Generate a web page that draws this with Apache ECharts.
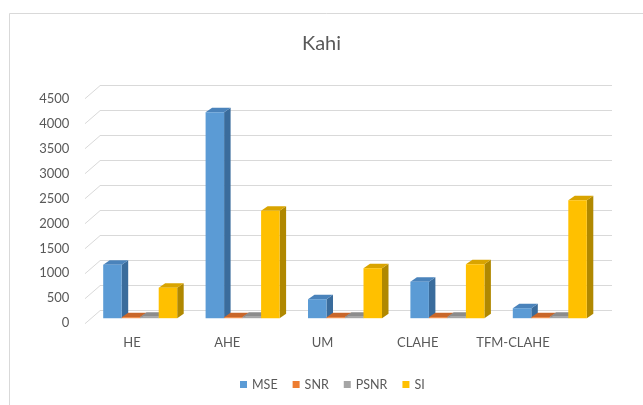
<!DOCTYPE html>
<html>
<head>
<meta charset="utf-8">
<script src="https://cdn.jsdelivr.net/npm/echarts@6/dist/echarts.min.js"></script>
<style>
  html, body { margin: 0; padding: 0; background: #fff; }
  #main { width: 643px; height: 405px; }
</style>
</head>
<body>
<div id="main"></div>
<script>
// data
var categories = ['HE', 'AHE', 'UM', 'CLAHE', 'TFM-CLAHE'];
var mse  = [1070, 4120, 380, 730, 200];
var snr  = [20, 20, 20, 20, 20];
var psnr = [28, 28, 28, 28, 28];
var si   = [610, 2150, 1000, 1080, 2360];
var yTicks = [0, 500, 1000, 1500, 2000, 2500, 3000, 3500, 4000, 4500];

// 3d look
var barW = 18.5, depthX = 6.5, depthY = 4.5, shiftY = 7.5, groupOffset = -48;

var palette = [
    { name: 'MSE',  front: '#5b9bd5', top: '#4a83bb', side: '#3a6c9c' },
    { name: 'SNR',  front: '#ed7d31', top: '#c9672a', side: '#b05a20' },
    { name: 'PSNR', front: '#a5a5a5', top: '#8c8c8c', side: '#777777' },
    { name: 'SI',   front: '#ffc000', top: '#d9a400', side: '#b08800' }
];
var values = [mse, snr, psnr, si];

function makeRender(k, c) {
    return function (params, api) {
        var base = api.coord([api.value(0), 0]);
        var top = api.coord([api.value(0), api.value(1)]);
        var x0 = base[0] + groupOffset + k * barW;
        var x1 = x0 + barW;
        var yb = base[1] + shiftY;
        var yt = top[1] + shiftY;
        return {
            type: 'group',
            children: [
                { type: 'polygon', shape: { points: [[x1, yb], [x1 + depthX, yb - depthY], [x1 + depthX, yt - depthY], [x1, yt]] }, style: { fill: c.side } },
                { type: 'polygon', shape: { points: [[x0, yt], [x1, yt], [x1 + depthX, yt - depthY], [x0 + depthX, yt - depthY]] }, style: { fill: c.top } },
                { type: 'rect', shape: { x: x0, y: yt, width: barW, height: Math.max(yb - yt, 0.5) }, style: { fill: c.front } }
            ]
        };
    };
}

var series = [];

// slanted floor lines from the back wall to the front
series.push({
    type: 'custom',
    xAxisIndex: 0,
    yAxisIndex: 0,
    silent: true,
    data: yTicks.map(function (t) { return [0, t]; }),
    renderItem: function (params, api) {
        var y = api.coord([0, api.value(1)])[1];
        var x = params.coordSys.x;
        return {
            type: 'line',
            shape: { x1: x, y1: y, x2: x - 15, y2: y + 13 },
            style: { stroke: '#d9d9d9', lineWidth: 1 }
        };
    }
});

palette.forEach(function (c, k) {
    series.push({
        name: c.name,
        type: 'custom',
        xAxisIndex: 0,
        yAxisIndex: 0,
        itemStyle: { color: c.front },
        data: values[k].map(function (v, i) { return [i, v]; }),
        renderItem: makeRender(k, c)
    });
});

var myChart = echarts.init(document.getElementById('main'));

option = {
    backgroundColor: '#fff',
    animation: false,
    graphic: [{
        type: 'rect',
        shape: { x: 9.5, y: 13.5, width: 700, height: 500 },
        style: { fill: 'none', stroke: '#d9d9d9', lineWidth: 1 },
        silent: true
    }],
    title: {
        text: 'Kahi',
        left: 'center',
        top: 29,
        textStyle: { fontFamily: 'Lato', fontSize: 20, fontWeight: 'normal', color: '#595959' }
    },
    legend: {
        data: palette.map(function (c) { return c.name; }),
        left: 240,
        top: 378,
        padding: 0,
        icon: 'rect',
        itemWidth: 7,
        itemHeight: 7,
        itemGap: 15,
        textStyle: { fontFamily: 'Lato', fontSize: 12.5, color: '#595959' }
    },
    grid: [
        { left: 100, right: 31, top: 85.7, bottom: 94.3 },
        { left: 84.4, right: 82.4, top: 99, bottom: 82 }
    ],
    xAxis: [
        {
            gridIndex: 0, type: 'category', data: categories,
            axisLine: { show: false }, axisTick: { show: false }, axisLabel: { show: false }
        },
        {
            gridIndex: 1, type: 'category', data: categories,
            axisLine: { show: false }, axisTick: { show: false },
            axisLabel: { interval: 0, margin: 13, fontFamily: 'Lato', fontSize: 13, color: '#595959' }
        }
    ],
    yAxis: [
        {
            gridIndex: 0, type: 'value', min: 0, max: 4500, interval: 500,
            axisLine: { show: false }, axisTick: { show: false }, axisLabel: { show: false },
            splitLine: { lineStyle: { color: '#d9d9d9', width: 1 } }
        },
        {
            gridIndex: 1, type: 'value', min: 0, max: 4500, interval: 500,
            axisLine: { show: false }, axisTick: { show: false },
            axisLabel: {
                margin: 15, fontFamily: 'Lato', fontSize: 13, color: '#595959',
                formatter: function (v) { return String(v); }
            },
            splitLine: { show: false }
        }
    ],
    series: series
};

myChart.setOption(option);
</script>
</body>
</html>
